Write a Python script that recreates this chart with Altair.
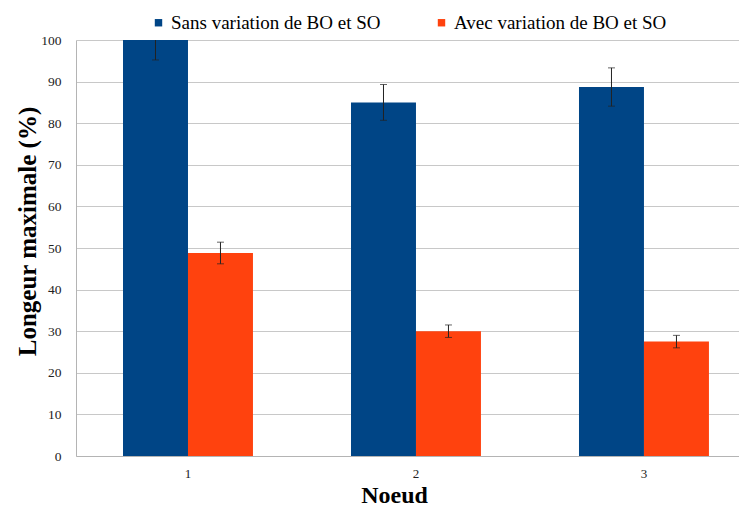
import altair as alt
import pandas as pd

nodes = ["1", "2", "3"]
series = ["Sans variation de  BO et SO", "Avec variation de BO et SO"]
sans_vals = [100.0, 85.0, 88.7]
sans_err = [4.8, 4.3, 4.6]
avec_vals = [48.8, 30.0, 27.5]
avec_err = [2.6, 1.5, 1.5]
colors = ["#004586", "#ff420e"]

rows = []
for n, v, e in zip(nodes, sans_vals, sans_err):
    rows.append({"Noeud": n, "serie": series[0], "val": v, "lo": v - e, "hi": v + e})
for n, v, e in zip(nodes, avec_vals, avec_err):
    rows.append({"Noeud": n, "serie": series[1], "val": v, "lo": v - e, "hi": v + e})
df = pd.DataFrame(rows)

FONT = "'Liberation Serif', 'Times New Roman', serif"

x = alt.X(
    "Noeud:N",
    sort=nodes,
    scale=alt.Scale(paddingInner=0.43, paddingOuter=0.169, align=0.61),
    axis=alt.Axis(
        title="Noeud", labelAngle=0, ticks=False, tickSize=0, labelPadding=11,
        labelFontSize=13, labelColor="#222222",
        titleFontSize=24, titleFontWeight="bold", titleColor="#000000",
        titlePadding=3, titleX=318, domainColor="#b4b4b4", grid=False,
    ),
)
xo = alt.XOffset("serie:N", sort=series, scale=alt.Scale(domain=series, paddingInner=0, paddingOuter=0))
y_axis = alt.Axis(
    title="Longeur maximale (%)", values=list(range(0, 101, 10)), ticks=False, tickSize=0,
    labelPadding=15, labelFontSize=13.5, labelColor="#222222",
    titleFontSize=25, titleFontWeight="bold", titleColor="#000000",
    titlePadding=0, titleY=191, domainColor="#b4b4b4", gridColor="#c8c8c8", gridWidth=1,
)

base = alt.Chart(df)

bars = base.mark_bar().encode(
    x=x,
    xOffset=xo,
    y=alt.Y("val:Q", scale=alt.Scale(domain=[0, 100], nice=False), axis=y_axis),
    color=alt.Color(
        "serie:N", sort=series,
        scale=alt.Scale(domain=series, range=colors),
        legend=alt.Legend(
            title=None, orient="none", direction="horizontal", legendX=73, legendY=-27,
            symbolType="square", symbolSize=55, symbolStrokeWidth=0,
            labelFontSize=19, labelColor="#000000", labelLimit=0,
            columnPadding=46, labelOffset=3,
        ),
    ),
)

rules = base.mark_rule(color="#222222", strokeWidth=1, clip=True).encode(
    x=x, xOffset=xo,
    y=alt.Y("lo:Q"), y2="hi:Q",
)
caps_hi = base.mark_tick(color="#222222", thickness=1, size=7, clip=True).encode(
    x=x, xOffset=xo, y=alt.Y("hi:Q"),
)
caps_lo = base.mark_tick(color="#222222", thickness=1, size=7, clip=True).encode(
    x=x, xOffset=xo, y=alt.Y("lo:Q"),
)

chart = alt.layer(bars, rules, caps_hi, caps_lo).properties(
    width=663, height=416, padding={"left": 7, "top": 5, "right": 0, "bottom": 0},
).configure(font=FONT).configure_axis(
    labelFont=FONT, titleFont=FONT
).configure_legend(
    labelFont=FONT
).configure_view(stroke=None)

chart.save("out.html", embed_options={"renderer": "svg", "actions": False})
